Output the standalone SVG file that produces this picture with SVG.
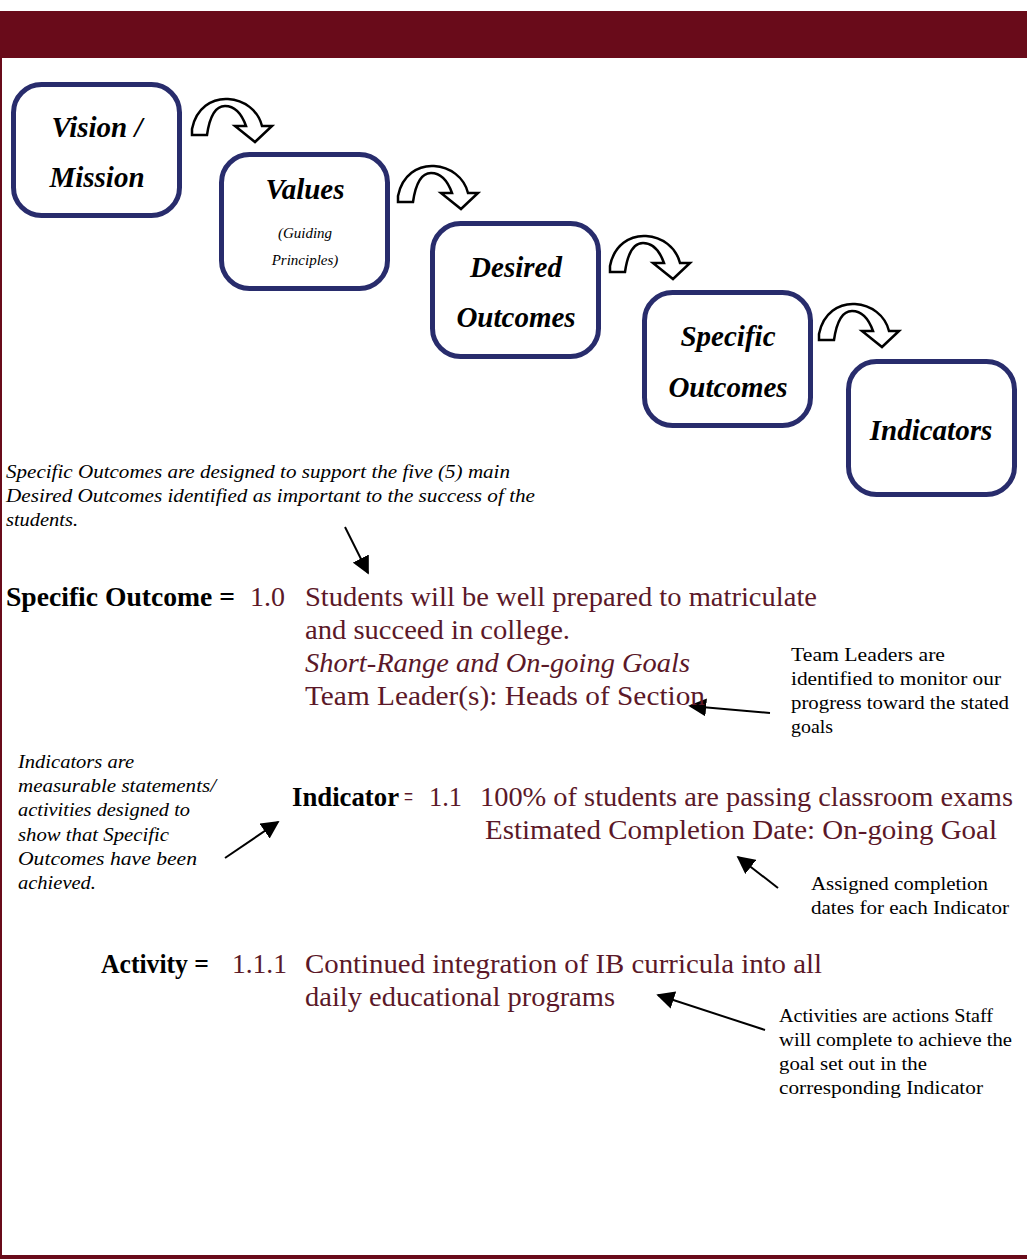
<svg xmlns="http://www.w3.org/2000/svg" width="1027" height="1259" viewBox="0 0 1027 1259" font-family="Liberation Serif, DejaVu Serif, serif">
<style>
.box{fill:#fff;stroke:#282c6c;stroke-width:5}
.bt{font-weight:bold;font-style:italic;font-size:29px;fill:#000;text-anchor:middle}
.st{font-style:italic;font-size:15px;fill:#000;text-anchor:middle}
.curve{fill:#fff;stroke:#000;stroke-width:2.5;stroke-linejoin:miter}
.note{font-size:18px;fill:#000}
.notei{font-style:italic;font-size:18px;fill:#000}
.labb{font-weight:bold;font-size:27px;fill:#000}
.mr{font-size:27px;fill:#5b1828}
.mri{font-style:italic;font-size:27px;fill:#5b1828}
.ptr{stroke:#000;stroke-width:2;fill:none;marker-end:url(#ah)}
</style>
<defs>
<marker id="ah" viewBox="0 0 10 10" refX="9" refY="5" markerWidth="18" markerHeight="18" markerUnits="userSpaceOnUse" orient="auto">
<path d="M0,0 L10,5 L0,10 Z" fill="#000"/>
</marker>
<path id="carrow" class="curve" d="M0,37 L0,31 C4,10 20,0 36,1 C52,2 66,12 70,28 L80,28 L63,44 L43,28 L54,28 C49,14 41,8 33,8 C25,8 18,16 15,37 Z"/>
</defs>
<rect x="0" y="0" width="1027" height="1259" fill="#fff"/>
<rect x="0" y="11" width="1027" height="47" fill="#690b1a"/>
<rect x="0" y="58" width="2" height="1201" fill="#690b1a"/>
<rect x="0" y="1255" width="1027" height="4" fill="#690b1a"/>

<g id="n-vision">
<rect class="box" x="13.5" y="84.5" width="166" height="131" rx="28"/>
<text class="bt" x="97" y="137">Vision /</text>
<text class="bt" x="97" y="187">Mission</text>
</g>
<g id="n-values">
<rect class="box" x="221.5" y="154.5" width="166" height="134" rx="28"/>
<text class="bt" x="305" y="199">Values</text>
<text class="st" x="305" y="238">(Guiding</text>
<text class="st" x="305" y="265">Principles)</text>
</g>
<g id="n-desired">
<rect class="box" x="432.5" y="223.5" width="166" height="133" rx="28"/>
<text class="bt" x="516" y="277">Desired</text>
<text class="bt" x="516" y="327">Outcomes</text>
</g>
<g id="n-specific">
<rect class="box" x="644.5" y="292.5" width="166" height="133" rx="28"/>
<text class="bt" x="728" y="346">Specific</text>
<text class="bt" x="728" y="397">Outcomes</text>
</g>
<g id="n-indicators">
<rect class="box" x="848.5" y="361.5" width="166" height="133" rx="28"/>
<text class="bt" x="931" y="440">Indicators</text>
</g>

<g id="connectors">
<use href="#carrow" x="192" y="98"/>
<use href="#carrow" x="398" y="165"/>
<use href="#carrow" x="610" y="235"/>
<use href="#carrow" x="819" y="303"/>
<line class="ptr" x1="345" y1="527" x2="368" y2="573"/>
<line class="ptr" x1="770" y1="713" x2="690" y2="706"/>
<line class="ptr" x1="225" y1="858" x2="278" y2="822"/>
<line class="ptr" x1="778" y1="888" x2="738" y2="857"/>
<line class="ptr" x1="765" y1="1030" x2="658" y2="995"/>
</g>

<g id="note-specific">
<text class="notei" x="6" y="478" textLength="504" lengthAdjust="spacingAndGlyphs">Specific Outcomes are designed to support the five (5) main</text>
<text class="notei" x="6" y="502" textLength="529" lengthAdjust="spacingAndGlyphs">Desired Outcomes identified as important to the success of the</text>
<text class="notei" x="6" y="526" textLength="72" lengthAdjust="spacingAndGlyphs">students.</text>
</g>

<g id="specific-outcome">
<text class="labb" x="6" y="606" textLength="229" lengthAdjust="spacingAndGlyphs">Specific Outcome =</text>
<text class="mr" x="250" y="606" textLength="35" lengthAdjust="spacingAndGlyphs">1.0</text>
<text class="mr" x="305" y="606" textLength="512" lengthAdjust="spacingAndGlyphs">Students will be well prepared to matriculate</text>
<text class="mr" x="305" y="639" textLength="265" lengthAdjust="spacingAndGlyphs">and succeed in college.</text>
<text class="mri" x="305" y="672" textLength="385" lengthAdjust="spacingAndGlyphs">Short-Range and On-going Goals</text>
<text class="mr" x="305" y="705" textLength="400" lengthAdjust="spacingAndGlyphs">Team Leader(s): Heads of Section</text>
</g>

<g id="note-team">
<text class="note" x="791" y="661" textLength="154" lengthAdjust="spacingAndGlyphs">Team Leaders are</text>
<text class="note" x="791" y="685" textLength="210" lengthAdjust="spacingAndGlyphs">identified to monitor our</text>
<text class="note" x="791" y="709" textLength="218" lengthAdjust="spacingAndGlyphs">progress toward the stated</text>
<text class="note" x="791" y="733" textLength="42" lengthAdjust="spacingAndGlyphs">goals</text>
</g>

<g id="note-indicators">
<text class="notei" x="18" y="768" textLength="116" lengthAdjust="spacingAndGlyphs">Indicators are</text>
<text class="notei" x="18" y="792" textLength="198" lengthAdjust="spacingAndGlyphs">measurable statements/</text>
<text class="notei" x="18" y="816" textLength="172" lengthAdjust="spacingAndGlyphs">activities designed to</text>
<text class="notei" x="18" y="841" textLength="151" lengthAdjust="spacingAndGlyphs">show that Specific</text>
<text class="notei" x="18" y="865" textLength="179" lengthAdjust="spacingAndGlyphs">Outcomes have been</text>
<text class="notei" x="18" y="889" textLength="78" lengthAdjust="spacingAndGlyphs">achieved.</text>
</g>

<g id="indicator">
<text class="labb" x="292" y="806" textLength="107" lengthAdjust="spacingAndGlyphs">Indicator</text>
<text class="mr" x="404" y="806" textLength="9" lengthAdjust="spacingAndGlyphs">=</text>
<text class="mr" x="429" y="806" textLength="33" lengthAdjust="spacingAndGlyphs">1.1</text>
<text class="mr" x="480" y="806" textLength="533" lengthAdjust="spacingAndGlyphs">100% of students are passing classroom exams</text>
<text class="mr" x="485" y="839" textLength="512" lengthAdjust="spacingAndGlyphs">Estimated Completion Date: On-going Goal</text>
</g>

<g id="note-assigned">
<text class="note" x="811" y="890" textLength="177" lengthAdjust="spacingAndGlyphs">Assigned completion</text>
<text class="note" x="811" y="914" textLength="198" lengthAdjust="spacingAndGlyphs">dates for each Indicator</text>
</g>

<g id="activity">
<text class="labb" x="101" y="973" textLength="108" lengthAdjust="spacingAndGlyphs">Activity =</text>
<text class="mr" x="232" y="973" textLength="55" lengthAdjust="spacingAndGlyphs">1.1.1</text>
<text class="mr" x="305" y="973" textLength="517" lengthAdjust="spacingAndGlyphs">Continued integration of IB curricula into all</text>
<text class="mr" x="305" y="1006" textLength="310" lengthAdjust="spacingAndGlyphs">daily educational programs</text>
</g>

<g id="note-activities">
<text class="note" x="779" y="1022" textLength="214" lengthAdjust="spacingAndGlyphs">Activities are actions Staff</text>
<text class="note" x="779" y="1046" textLength="233" lengthAdjust="spacingAndGlyphs">will complete to achieve the</text>
<text class="note" x="779" y="1070" textLength="148" lengthAdjust="spacingAndGlyphs">goal set out in the</text>
<text class="note" x="779" y="1094" textLength="204" lengthAdjust="spacingAndGlyphs">corresponding Indicator</text>
</g>
</svg>
